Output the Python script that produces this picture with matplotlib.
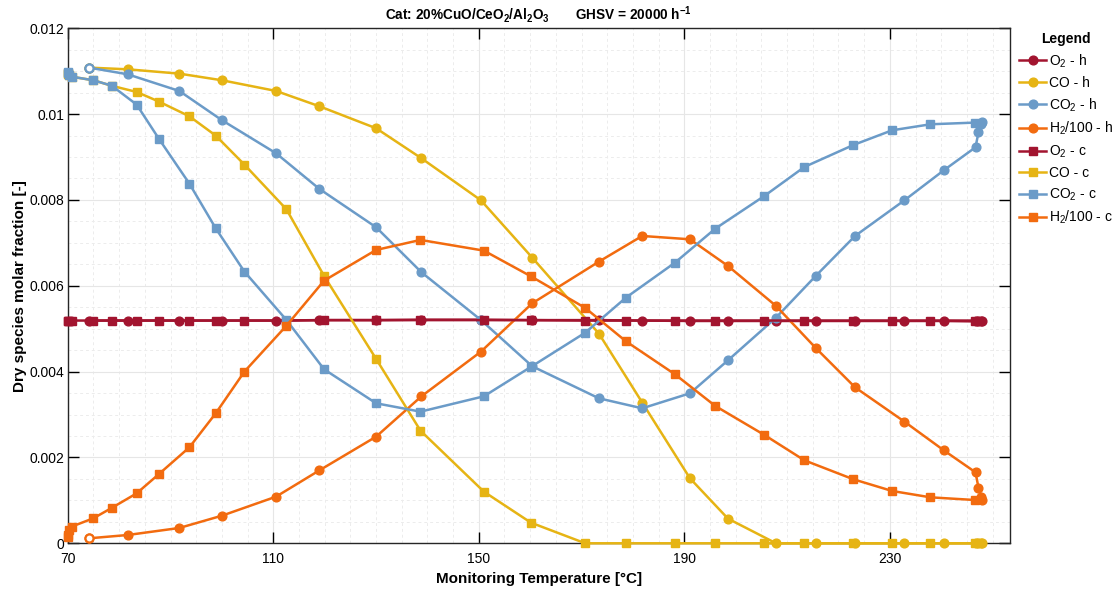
import matplotlib
matplotlib.use('Agg')
import matplotlib.pyplot as plt
from matplotlib.ticker import MultipleLocator, FixedLocator, FixedFormatter

plt.rcParams['font.family'] = ['Liberation Sans', 'DejaVu Sans']
plt.rcParams['mathtext.fontset'] = 'custom'
plt.rcParams['mathtext.rm'] = 'Liberation Sans'
plt.rcParams['mathtext.bf'] = 'Liberation Sans:bold'

# heating ramp (circles)
T_h = [74.13, 81.66, 91.71, 100.03, 110.55, 118.98, 130.02, 138.84, 150.41, 160.40,
       173.38, 181.8, 191.1, 198.5, 207.85, 215.57, 223.23, 232.84, 240.5, 246.67,
       247.25, 247.77, 247.97]
O2_h = [0.00519, 0.00519, 0.00519, 0.00519, 0.00519, 0.00520, 0.00520, 0.00521, 0.00521, 0.00520,
        0.00520, 0.00519, 0.00518, 0.00518, 0.00518, 0.00518, 0.00518, 0.00518, 0.00518, 0.00517,
        0.00517, 0.00517, 0.00517]
CO_h = [0.011083, 0.011044, 0.010943, 0.010788, 0.010539, 0.010182, 0.009670, 0.008970, 0.007992, 0.006656,
        0.004885, 0.00328, 0.001514, 0.000574, 0.0, 0.0, 0.0, 0.0, 0.0, 0.0,
        0.0, 0.0, 0.0]
CO2_h = [0.011083, 0.010928, 0.010539, 0.009856, 0.009087, 0.008256, 0.007363, 0.006314, 0.005203, 0.004124,
         0.003378, 0.003145, 0.003495, 0.004264, 0.005258, 0.006229, 0.007161, 0.007992, 0.008691, 0.009227,
         0.009576, 0.009771, 0.009817]
H2_h = [0.000116, 0.000193, 0.000357, 0.000644, 0.001087, 0.0017, 0.002485, 0.003425, 0.004465, 0.005592,
        0.006563, 0.007161, 0.007083, 0.006462, 0.00553, 0.004551, 0.003634, 0.002834, 0.002166, 0.001654,
        0.001296, 0.001087, 0.001009]

# cooling ramp (squares)
T_c = [246.48, 237.91, 230.44, 222.91, 213.37, 205.58, 196.03, 188.18, 178.64, 170.72,
       160.14, 150.99, 138.65, 130.02, 119.89, 112.56, 104.38, 98.80, 93.67, 87.76,
       83.41, 78.54, 74.97, 70.75, 70.3, 70.1, 70.0]
O2_c = [0.00519, 0.00519, 0.00519, 0.00519, 0.00519, 0.00519, 0.00519, 0.00519, 0.00519, 0.00519,
        0.00520, 0.00520, 0.00520, 0.00520, 0.00520, 0.00519, 0.00519, 0.00519, 0.00519, 0.00519,
        0.00519, 0.00519, 0.00519, 0.00519, 0.00519, 0.00519, 0.00519]
CO_c = [0.0, 0.0, 0.0, 0.0, 0.0, 0.0, 0.0, 0.0, 0.0, 0.0,
        0.000481, 0.001203, 0.002624, 0.004295, 0.006229, 0.007782, 0.008823, 0.009499, 0.009949, 0.010291,
        0.010516, 0.01066, 0.01079, 0.01087, 0.0109, 0.01093, 0.01095]
CO2_c = [0.009802, 0.009763, 0.009623, 0.009281, 0.008769, 0.008093, 0.007332, 0.006539, 0.005724, 0.004908,
         0.00411, 0.003425, 0.003067, 0.003262, 0.004054, 0.005203, 0.006330, 0.007339, 0.008380, 0.009421,
         0.010221, 0.010664, 0.010788, 0.010873, 0.0109, 0.01095, 0.01098]
H2_c = [0.001009, 0.001071, 0.001219, 0.001491, 0.001933, 0.002524, 0.003199, 0.003937, 0.004706, 0.005483,
        0.006221, 0.006819, 0.007068, 0.006835, 0.00612, 0.00507, 0.0040, 0.003029, 0.002236, 0.001615,
        0.001164, 0.000823, 0.000582, 0.000388, 0.00030, 0.00020, 0.000155]

c_o2 = '#A2142F'
c_co = '#E6B414'
c_co2 = '#6B9BC8'
c_h2 = '#F26B0F'

# (x, y, colour, marker, label, hollow first point)
series = [
    (T_h, O2_h, c_o2, 'o', r'O$_2$ - h', False),
    (T_h, CO_h, c_co, 'o', 'CO - h', True),
    (T_h, CO2_h, c_co2, 'o', r'CO$_2$ - h', True),
    (T_h, H2_h, c_h2, 'o', r'H$_2$/100 - h', True),
    (T_c, O2_c, c_o2, 's', r'O$_2$ - c', False),
    (T_c, CO_c, c_co, 's', 'CO - c', False),
    (T_c, CO2_c, c_co2, 's', r'CO$_2$ - c', False),
    (T_c, H2_c, c_h2, 's', r'H$_2$/100 - c', False),
]

fig = plt.figure(figsize=(11.2, 5.89), dpi=100)
ax = fig.add_axes([0.0605, 0.0776, 0.8409, 0.8744])

for x, y, col, mk, lab, hollow in series:
    ms = 6.3 if mk == 'o' else 5.2
    ax.plot(x, y, color=col, marker=mk, markersize=ms, linewidth=1.8,
            markerfacecolor=col, markeredgecolor=col, label=lab, clip_on=False, zorder=3)
    if hollow:
        ax.plot(x[:1], y[:1], linestyle='none', marker=mk, markersize=ms - 0.5,
                markerfacecolor='white', markeredgecolor=col, markeredgewidth=1.6,
                clip_on=False, zorder=3)

ax.set_xlim(70, 253.3)
ax.set_ylim(0, 0.012)
ax.xaxis.set_major_locator(FixedLocator([70, 110, 150, 190, 230]))
ax.xaxis.set_minor_locator(MultipleLocator(5))
yt = [0, 0.002, 0.004, 0.006, 0.008, 0.01, 0.012]
ax.yaxis.set_major_locator(FixedLocator(yt))
ax.yaxis.set_major_formatter(FixedFormatter(['0', '0.002', '0.004', '0.006', '0.008', '0.01', '0.012']))
ax.yaxis.set_minor_locator(MultipleLocator(0.0005))

ax.tick_params(which='major', direction='in', length=8, width=1, top=True, right=True,
               labelsize=10)
ax.tick_params(axis='x', which='major', pad=6.5)
ax.tick_params(axis='y', which='major', pad=2.5)
ax.tick_params(which='minor', length=0, top=True, right=True)
ax.grid(which='major', color='#e6e6e6', linewidth=0.8, linestyle='-', zorder=0)
ax.grid(which='minor', color='#ececec', linewidth=0.7, linestyle=(0, (3, 3)), zorder=0)
ax.set_axisbelow(True)
for s in ax.spines.values():
    s.set_linewidth(1.0)
    s.set_color('#262626')

ax.set_xlabel('Monitoring Temperature [°C]', fontsize=11, fontweight='bold', labelpad=4)
ax.set_ylabel('Dry species molar fraction [-]', fontsize=11, fontweight='bold', labelpad=2)
ax.set_title(r'Cat: 20%CuO/CeO$_\mathbf{2}$/Al$_\mathbf{2}$O$_\mathbf{3}$       GHSV = 20000 h$^{\mathbf{-1}}$',
             fontsize=9.8, fontweight='bold', pad=6)

leg = ax.legend(loc='upper left', bbox_to_anchor=(1.0075, 0.998), frameon=False, fontsize=10,
                title='Legend', title_fontproperties={'weight': 'bold', 'size': 10},
                handlelength=1.95, handletextpad=0.2, labelspacing=0.45,
                borderaxespad=0.0, borderpad=0.2)

fig.savefig('out.png', dpi=100)
